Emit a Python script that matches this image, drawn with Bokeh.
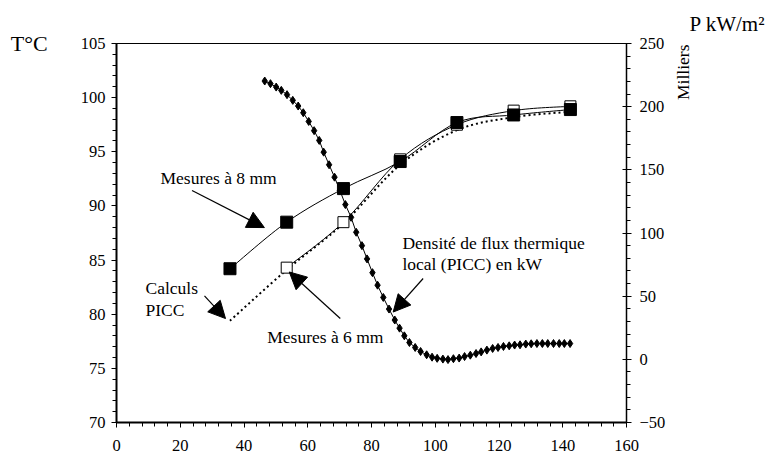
import math
from bokeh.plotting import figure
from bokeh.layouts import row
from bokeh.models import (Range1d, LinearAxis, SingleIntervalTicker, Label, Arrow,
                          NormalHead, ColumnDataSource, Title)
from bokeh.embed import file_html
from bokeh.resources import INLINE

# ---------------- data ----------------
pos_8mm = [35.6, 53.4, 71.2, 89.0, 106.8, 124.6, 142.4]
t_8mm = [84.2, 88.5, 91.6, 94.1, 97.7, 98.4, 98.9]

pos_6mm = [53.4, 71.2, 89.0, 106.8, 124.6, 142.4]
t_6mm = [84.3, 88.5, 94.3, 97.5, 98.8, 99.2]

pos_picc = [35.6, 53.4, 71.2, 89.0, 106.8, 124.6, 142.4]
t_picc = [79.4, 84.1, 88.4, 93.8, 97.0, 98.2, 98.7]

flux_x = [46.5, 48.3, 50.1, 51.7, 53.5, 55.3, 57.0, 58.6, 60.3, 62.0,
          63.6, 65.0, 66.7, 68.4, 70.1, 71.8, 73.6, 75.2, 77.0, 78.6,
          80.3, 81.9, 83.7, 85.5, 87.3, 88.8, 90.3, 91.9, 93.7, 95.4,
          97.3, 99.0, 100.6, 102.4, 104.0, 105.7, 107.5, 109.2, 111.0, 112.8,
          114.4, 116.2, 118.0, 119.7, 121.4, 123.2, 124.9, 126.6, 128.4, 130.1,
          131.9, 133.6, 135.3, 137.1, 138.9, 140.5, 142.3]
flux_p = [220.3, 218.2, 215.5, 212.9, 209.5, 205.0, 200.5, 195.2, 188.3, 181.0,
          173.3, 164.0, 154.0, 144.2, 133.6, 122.5, 112.4, 100.6, 90.0, 79.5,
          68.6, 58.7, 49.0, 39.8, 31.1, 24.7, 18.6, 13.3, 9.4, 6.2,
          3.6, 1.7, 0.8, 0.2, -0.2, 0.5, 1.0, 2.2, 3.3, 4.6,
          5.9, 7.3, 8.6, 9.4, 10.2, 10.7, 11.3, 11.5, 12.1, 12.3,
          12.5, 12.5, 12.5, 12.5, 12.5, 12.5, 12.5]

FONT = "Liberation Serif"


def smooth(xs, ys):
    """Catmull-Rom -> cubic Bezier control points (Excel-like smoothing)."""
    n = len(xs)
    d = dict(x0=[], y0=[], x1=[], y1=[], cx0=[], cy0=[], cx1=[], cy1=[])
    for i in range(n - 1):
        a = max(i - 1, 0)
        b = min(i + 2, n - 1)
        d["x0"].append(xs[i]); d["y0"].append(ys[i])
        d["x1"].append(xs[i + 1]); d["y1"].append(ys[i + 1])
        d["cx0"].append(xs[i] + (xs[i + 1] - xs[a]) / 6)
        d["cy0"].append(ys[i] + (ys[i + 1] - ys[a]) / 6)
        d["cx1"].append(xs[i + 1] - (xs[b] - xs[i]) / 6)
        d["cy1"].append(ys[i + 1] - (ys[b] - ys[i]) / 6)
    return ColumnDataSource(d)


p = figure(width=668, height=456, x_range=Range1d(0, 160), y_range=Range1d(70, 105),
           output_backend="svg", toolbar_location=None,
           min_border_left=116, min_border_right=42, min_border_top=43, min_border_bottom=34)
p.extra_y_ranges = {"flux": Range1d(-50, 250)}
p.grid.visible = False
p.outline_line_color = "black"
p.outline_line_width = 1
p.background_fill_color = "white"
p.border_fill_color = "white"

xa = p.xaxis[0]
xa.ticker = SingleIntervalTicker(interval=20, num_minor_ticks=5)
ya = p.yaxis[0]
ya.ticker = SingleIntervalTicker(interval=5, num_minor_ticks=5)
ra = LinearAxis(y_range_name="flux", ticker=SingleIntervalTicker(interval=50, num_minor_ticks=5))
p.add_layout(ra, "right")

for ax in (xa, ya, ra):
    ax.axis_line_color = "black"
    ax.major_tick_line_color = "black"
    ax.minor_tick_line_color = "black"
    ax.major_label_text_font = FONT
    ax.major_label_text_font_size = "16.5px"
    ax.major_label_text_color = "black"
    ax.major_tick_in = 0
    ax.major_tick_out = 5
    ax.minor_tick_in = 0
    ax.minor_tick_out = 4
    ax.axis_label_text_font = FONT
    ax.axis_label_text_font_style = "normal"
    ax.axis_label_text_color = "black"
xa.axis_line_width = 2
ya.axis_line_width = 2
ra.axis_line_width = 1.5
xa.major_label_standoff = 12
ya.major_label_standoff = 6
ra.major_label_standoff = 8
ra.major_tick_in = 4

# left axis title
ya.axis_label = "T°C"
ya.axis_label_text_font_size = "22px"
ya.axis_label_orientation = "horizontal"
ya.axis_label_align = "end"
ya.axis_label_standoff = 30

# ---------------- series ----------------
p.line(flux_x, flux_p, y_range_name="flux", line_color="black", line_width=1)
p.scatter(flux_x, flux_p, y_range_name="flux", marker="diamond", size=8,
          fill_color="black", line_color="black")

p.bezier(x0="x0", y0="y0", x1="x1", y1="y1", cx0="cx0", cy0="cy0", cx1="cx1", cy1="cy1",
         source=smooth(pos_picc, t_picc), line_color="black", line_width=2, line_dash="2 3")

p.bezier(x0="x0", y0="y0", x1="x1", y1="y1", cx0="cx0", cy0="cy0", cx1="cx1", cy1="cy1",
         source=smooth(pos_6mm, t_6mm), line_color="black", line_width=1)
p.scatter(pos_6mm, t_6mm, marker="square", size=11, fill_color="white",
          line_color="black", line_width=1)

p.bezier(x0="x0", y0="y0", x1="x1", y1="y1", cx0="cx0", cy0="cy0", cx1="cx1", cy1="cy1",
         source=smooth(pos_8mm, t_8mm), line_color="black", line_width=1)
p.scatter(pos_8mm, t_8mm, marker="square", size=12, fill_color="black",
          line_color="black", line_width=1)

# ---------------- annotations ----------------
def lab(fig, x, y, text, size="17.5px", align="left", angle=0.0):
    fig.add_layout(Label(x=x, y=y, text=text, text_font=FONT, text_font_size=size,
                         text_color="black", text_align=align, text_baseline="middle",
                         angle=angle))

lab(p, 13.8, 92.6, "Mesures à 8 mm")
lab(p, 9.1, 82.45, "Calculs")
lab(p, 9.1, 80.4, "PICC")
lab(p, 47.3, 77.9, "Mesures à 6 mm")
lab(p, 89.7, 86.6, "Densité de flux thermique")
lab(p, 89.7, 84.6, "local (PICC) en kW")


def arrow(xs, ys, xe, ye):
    p.add_layout(Arrow(x_start=xs, y_start=ys, x_end=xe, y_end=ye,
                       line_color="black", line_width=1.2,
                       end=NormalHead(size=17, fill_color="black", line_color="black")))

arrow(23.7, 91.43, 46.4, 88.0)
arrow(27.6, 81.7, 34.2, 79.6)
arrow(70.2, 79.6, 54.2, 83.9)
arrow(96.2, 83.3, 86.8, 80.2)

# ---------------- side strip for the right-hand titles ----------------
# its frame is aligned with the main frame (top 43, bottom 422); y range in px from top
side = figure(width=100, height=456, x_range=Range1d(0, 100), y_range=Range1d(421.7, 43.3),
              output_backend="svg", toolbar_location=None,
              x_axis_location=None, y_axis_location=None,
              min_border=0, min_border_left=0, min_border_right=0,
              min_border_top=43, min_border_bottom=34)
side.grid.visible = False
side.outline_line_color = None
side.background_fill_color = "white"
side.border_fill_color = "white"
lab(side, 14, 72, "Milliers", size="17.5px", align="center", angle=math.pi / 2)
side.add_layout(Title(text="P kW/m²", align="left", offset=21, standoff=16,
                      text_font=FONT, text_font_size="21px", text_font_style="normal",
                      text_color="black"), "above")

layout = row(p, side, spacing=0)
open("out.html", "w").write(file_html(layout, INLINE))
